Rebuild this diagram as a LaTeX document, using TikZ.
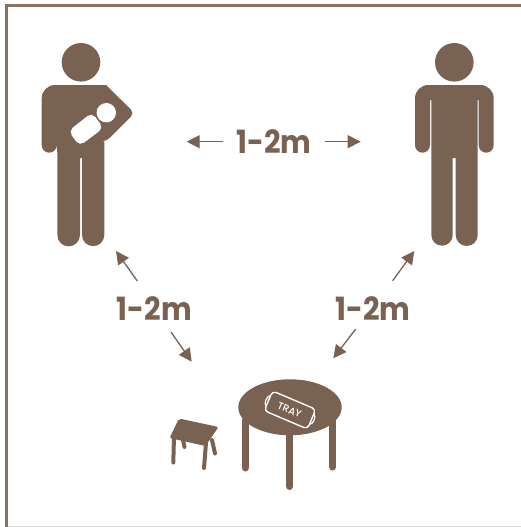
\documentclass[tikz,border=0pt]{standalone}
\usepackage{graphicx}
\usepackage{fontspec}
\setmainfont{Poppins}
\newfontfamily\trayfont{Poppins Medium}
\usetikzlibrary{arrows.meta}
\definecolor{brn}{HTML}{7A6253}
\newcommand{\distlabel}{\scalebox{0.905}[1]{1-2m}}
\tikzset{
  fig/.style={fill=brn,draw=none},
  limb/.style={draw=brn,line cap=round,line join=round},
  dist/.style={font=\bfseries\fontsize{32}{32}\selectfont,text=brn,inner sep=0pt},
  distarrow/.style={draw=brn,line width=1.3pt,-{Triangle[length=13pt,width=13pt]}},
  frameline/.style={draw=brn!90,line width=2.6pt}
}
\begin{document}
\begin{tikzpicture}[x=1pt,y=-1pt]
\useasboundingbox (0,0) rectangle (521,527);
\draw[black!15,line width=1pt] (6,526.5) -- (521,526.5);
\draw[frameline] (521,5.3) -- (6.3,5.3) -- (6.3,527);
% left person
\fill[fig] (81,62.3) circle[radius=19.3];
\fill[fig] (41.7,145.2) -- (41.7,98.3) arc[start angle=180,end angle=270,radius=13.3] -- (106,85) [rounded corners=5pt] -- (134.5,113) -- (106,141.5) [sharp corners] -- (104.3,141.5) -- (104.3,235) arc[start angle=0,end angle=180,radius=11.15] -- (82,158) -- (80,158) -- (80,235) arc[start angle=0,end angle=180,radius=11.35] -- (57.3,153) -- (56.7,145.2) arc[start angle=0,end angle=180,radius=7.5] -- cycle;
\fill[white] (106.3,112.7) circle[radius=9.7];
\fill[white,rounded corners=5.5pt] (92,112.5) -- (103.5,128) -- (79.5,146) -- (68.5,131) -- cycle;
% right person
\fill[fig] (454.3,62.3) circle[radius=19.3];
\fill[fig] (415,145.2) -- (415,98.3) arc[start angle=180,end angle=270,radius=13.3] -- (480.4,85) arc[start angle=270,end angle=360,radius=13.3] -- (493.7,145.2) arc[start angle=0,end angle=180,radius=7.5] -- (478.7,100) -- (477.7,100) -- (477.7,235) arc[start angle=0,end angle=180,radius=11] -- (455.7,158) -- (452.7,158) -- (452.7,235) arc[start angle=0,end angle=180,radius=10.7] -- (431.3,100) -- (430,100) -- (430,145.2) arc[start angle=0,end angle=180,radius=7.5] -- cycle;
% table
\draw[limb,line width=7pt] (245,420) -- (245,468);
\draw[limb,line width=7pt] (289.7,420) -- (289.7,486.5);
\draw[limb,line width=7pt] (332.7,420) -- (332.7,467);
\fill[fig] (290,407.3) ellipse[x radius=51.7,y radius=28];
% tray
\begin{scope}[shift={(290,410)},rotate=-23]
\draw[white,line width=1.4pt,rounded corners=4pt] (-23.5,-10.7) rectangle (23.5,10.7);
\draw[white,line width=1.2pt] (-23.5,-5.5) .. controls (-27,-5.5) and (-27,5.5) .. (-23.5,5.5);
\draw[white,line width=1.2pt] (23.5,-5.5) .. controls (27,-5.5) and (27,5.5) .. (23.5,5.5);
\end{scope}
\node[font=\trayfont\fontsize{10}{10}\selectfont,text=white,inner sep=0pt,rotate=-22] (traylabel) at (289.5,410) {TRAY};
% stool
\draw[limb,line width=4pt] (183,440) -- (184.5,447);
\draw[limb,line width=4pt] (212,440) -- (215,453.5);
\draw[limb,line width=4pt] (174,436) -- (173.3,462.5);
\draw[limb,line width=4pt] (206,443) -- (204,468);
\fill[fig,rounded corners=2pt] (179,418.5) -- (218.5,427) -- (205.5,446) -- (169.5,438) -- cycle;
% labels
\node[dist] (top) at (274,142) {\distlabel};
\node[dist] (ll) at (154.3,308.5) {\distlabel};
\node[dist] (lr) at (373,308.5) {\distlabel};
% arrows
\coordinate (a1) at (222.7,141.7); \coordinate (b1) at (186.7,141.7);
\coordinate (a2) at (325,141.7); \coordinate (b2) at (360.7,141.7);
\coordinate (a3) at (137.3,281); \coordinate (b3) at (116,251);
\coordinate (a4) at (171,332); \coordinate (b4) at (191.7,361.7);
\coordinate (a5) at (392.7,280.7); \coordinate (b5) at (414.3,251);
\coordinate (a6) at (355.7,329); \coordinate (b6) at (333.3,358.3);
\foreach \i in {1,...,6} {\draw[distarrow] (a\i) -- (b\i);}
\end{tikzpicture}
\end{document}
